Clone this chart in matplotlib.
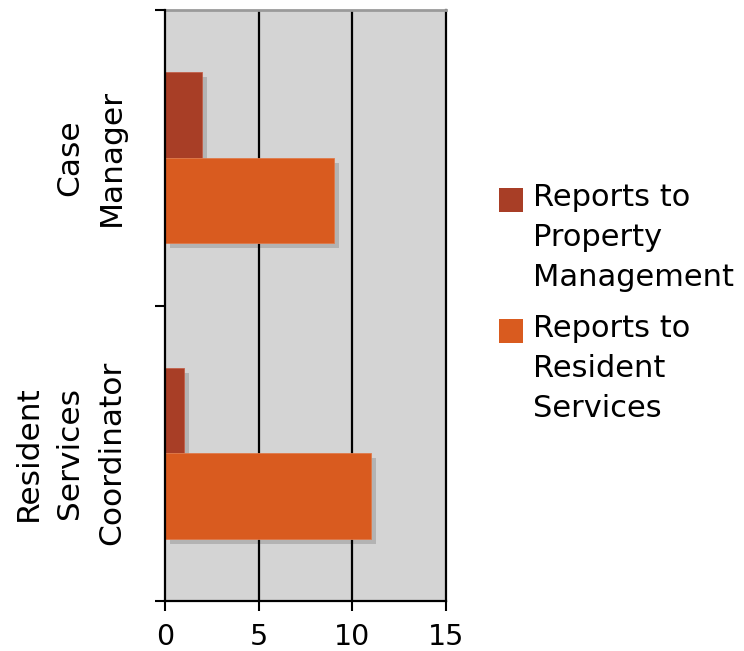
import matplotlib
matplotlib.use("Agg")
import matplotlib.pyplot as plt
import matplotlib.transforms as mtransforms
from matplotlib.patches import Rectangle
import numpy as np

categories = ["Case\nManager", "Resident\nServices\nCoordinator"]
series_names = ["Reports to\nProperty\nManagement", "Reports to\nResident\nServices"]
property_mgmt = [2, 1]
resident_services = [9, 11]
x_ticks = [0, 5, 10, 15]

colors = ["#A83E26", "#D95B1F"]
shadow_color = "#B3B3B3"
bg_color = "#D4D4D4"

plt.rcParams['font.family'] = ['DejaVu Sans']

fig = plt.figure(figsize=(7.44, 6.51), dpi=100)
ax = fig.add_axes([165/744, 1-601/651, (446-165)/744, (601-10)/651])
ax.set_facecolor(bg_color)

y = np.arange(len(categories))
h = 0.29
off = 0.145

shadow_tr = ax.transData + mtransforms.ScaledTranslation(5/100, -5/100, fig.dpi_scale_trans)

for vals, pos, col in [(property_mgmt, y - off, colors[0]), (resident_services, y + off, colors[1])]:
    sh = ax.barh(pos, vals, height=h, color=shadow_color, zorder=1, linewidth=0)
    for p in sh:
        p.set_transform(shadow_tr)

bars1 = ax.barh(y - off, property_mgmt, height=h, color=colors[0], zorder=3,
                edgecolor="#C2604A", linewidth=0.6)
bars2 = ax.barh(y + off, resident_services, height=h, color=colors[1], zorder=4,
                edgecolor="#E07A4A", linewidth=0.6)

ax.set_xlim(0, 15)
ax.set_ylim(1.5, -0.5)

for xv in x_ticks[1:-1]:
    ax.axvline(xv, color="black", linewidth=1.6, zorder=2)

ax.set_xticks(x_ticks)
ax.set_xticklabels([str(v) for v in x_ticks], fontsize=20.5)
ax.tick_params(axis='x', direction='out', length=7, width=1.5, pad=9, colors='black')

ax.set_yticks(y)
ax.set_yticklabels(categories, rotation=90, fontsize=22.5, va='center', ha='right',
                   multialignment='center', linespacing=1.55)
ax.tick_params(axis='y', which='major', length=0, pad=28)
ax.set_yticks([-0.5, 0.5, 1.5], minor=True)
ax.tick_params(axis='y', which='minor', direction='out', length=7, width=1.5)

for s in ['left', 'bottom', 'right']:
    ax.spines[s].set_color('black')
    ax.spines[s].set_linewidth(1.6)
ax.spines['top'].set_color('#9A9A9A')
ax.spines['top'].set_linewidth(2)
ax.spines['left'].set_zorder(5)

# legend drawn manually (square aligned with first text line)
legend_tops = [188, 319]
for i, name in enumerate(series_names):
    top = legend_tops[i]
    fig.add_artist(Rectangle((499/744, 1-(top+24)/651), 24/744, 24/651,
                             transform=fig.transFigure, facecolor=colors[i],
                             edgecolor='none'))
    fig.text(533/744, 1-(top-5)/651, name, fontsize=22, va='top', ha='left',
             linespacing=1.47)

fig.savefig("out.png", dpi=100)
